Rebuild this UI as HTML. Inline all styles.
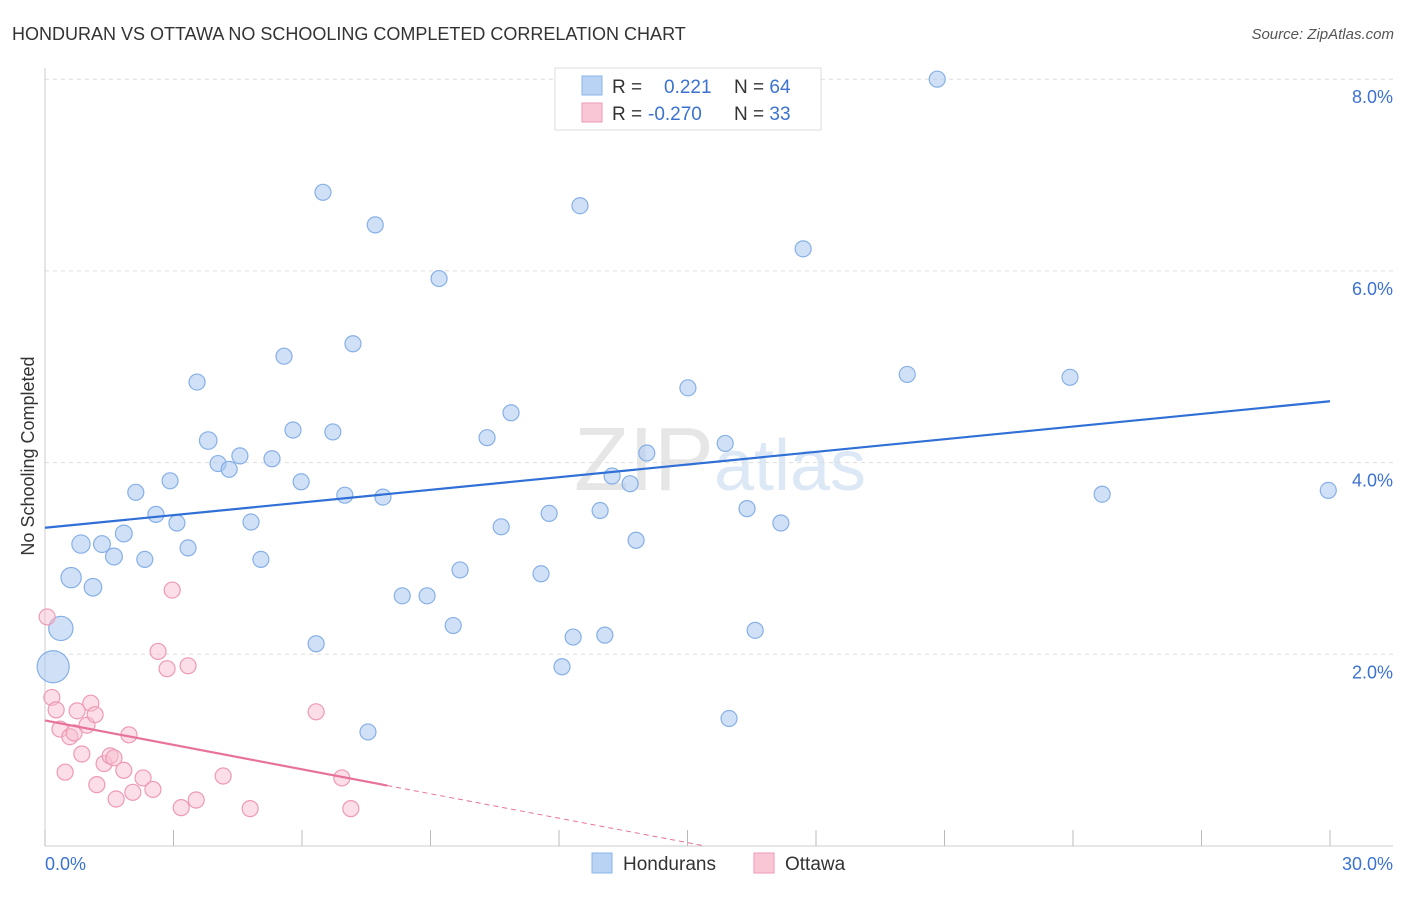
<!DOCTYPE html>
<html><head><meta charset="utf-8"><style>
body{margin:0;background:#fff;font-family:"Liberation Sans",sans-serif;}
svg text{font-family:"Liberation Sans",sans-serif;}
</style></head><body>
<svg id="chart" width="1406" height="892">
<text x="12" y="40" font-size="18" fill="#333">HONDURAN VS OTTAWA NO SCHOOLING COMPLETED CORRELATION CHART</text>
<text x="1394" y="39" font-size="15" fill="#555" font-style="italic" text-anchor="end">Source: ZipAtlas.com</text>
<text x="720" y="490" font-size="90" fill="#e6e6e6" text-anchor="middle" font-family="Liberation Serif">ZIP<tspan fill="#dde8f6" font-family="Liberation Sans" font-size="72">atlas</tspan></text>
<text transform="translate(34,456) rotate(-90)" font-size="18" fill="#333" text-anchor="middle">No Schooling Completed</text>
<g id="grid"></g><g id="axes"></g><g id="marks"></g>
<g>
<rect x="555" y="68" width="266" height="62" fill="#fff" stroke="#ddd"/>
<rect x="582" y="76" width="20" height="19" fill="#b8d3f3" stroke="#8ab4e8"/>
<rect x="582" y="103" width="20" height="19" fill="#f9c6d5" stroke="#ee9ab5"/>
<text x="612" y="93" font-size="19" fill="#333">R = <tspan x="664" fill="#3b72d1">0.221</tspan><tspan x="734" fill="#333">N = </tspan><tspan fill="#3b72d1">64</tspan></text>
<text x="612" y="120" font-size="19" fill="#333">R = <tspan x="648" fill="#3b72d1">-0.270</tspan><tspan x="734" fill="#333">N = </tspan><tspan fill="#3b72d1"> 33</tspan></text>
</g>
<g>
<rect x="592" y="853" width="20" height="20" fill="#b8d3f3" stroke="#8ab4e8"/>
<text x="623" y="870" font-size="19" fill="#333">Hondurans</text>
<rect x="754" y="853" width="20" height="20" fill="#f9c6d5" stroke="#ee9ab5"/>
<text x="785" y="870" font-size="19" fill="#333">Ottawa</text>
</g>
</svg>
<script>
const blueX=[0.19,0.37,0.61,0.84,1.12,1.33,1.61,1.84,2.12,2.33,2.59,2.92,3.08,3.34,3.55,3.81,4.04,4.30,4.55,4.81,5.04,5.30,5.58,5.79,5.98,6.33,6.49,6.72,7.00,7.19,7.54,7.71,7.89,8.34,8.92,9.20,9.53,9.69,10.32,10.65,10.88,11.58,11.77,12.07,12.33,12.49,12.96,13.07,13.24,13.66,13.80,14.05,15.01,15.88,15.97,16.39,16.58,17.18,17.70,20.13,20.83,23.93,24.68,29.96];
const blueY=[1.87,2.27,2.80,3.15,2.70,3.15,3.02,3.26,3.69,2.99,3.46,3.81,3.37,3.11,4.84,4.23,3.99,3.93,4.07,3.38,2.99,4.04,5.11,4.34,3.80,2.11,6.82,4.32,3.66,5.24,1.19,6.48,3.64,2.61,2.61,5.92,2.30,2.88,4.26,3.33,4.52,2.84,3.47,1.87,2.18,6.68,3.50,2.20,3.86,3.78,3.19,4.10,4.78,4.20,1.33,3.52,2.25,3.37,6.23,4.92,8.00,4.89,3.67,3.71];
const blueW=[4,2.3,1.6,1.3,1.2,1.1,1.1,1.1,1,1,1,1,1,1,1,1.2,1,1,1,1,1,1,1,1,1,1,1,1,1,1,1,1,1,1,1,1,1,1,1,1,1,1,1,1,1,1,1,1,1,1,1,1,1,1,1,1,1,1,1,1,1,1,1,1];
const pinkX=[0.05,0.16,0.26,0.35,0.47,0.58,0.68,0.75,0.86,0.98,1.07,1.17,1.21,1.38,1.52,1.61,1.66,1.84,1.96,2.05,2.29,2.52,2.64,2.85,2.97,3.18,3.34,3.53,4.16,4.79,6.33,6.93,7.14];
const pinkY=[2.39,1.55,1.42,1.22,0.77,1.14,1.18,1.41,0.96,1.26,1.49,1.37,0.64,0.86,0.94,0.92,0.49,0.79,1.16,0.56,0.71,0.59,2.03,1.85,2.67,0.40,1.88,0.48,0.73,0.39,1.40,0.71,0.39];
const blueLine=[3.32,0.044]; // intercept, slope
const pinkLine=[1.31,-0.085];
const pinkSolidEnd=7.99;
const xTicks=[0,3,6,9,12,15,18,21,24,27,30];
const yTicks=[2,4,6,8];
const yTickLabels=["2.0%","4.0%","6.0%","8.0%"];
const xLabels=["0.0%","30.0%"];

const X0=45,X1=1330,Y0=846,PY=95.85;
const sx=v=>X0+(v/30)*(X1-X0);
const sy=v=>Y0-v*PY;
const NS="http://www.w3.org/2000/svg";
function mk(tag,attrs,parent){const e=document.createElementNS(NS,tag);for(const k in attrs)e.setAttribute(k,attrs[k]);parent.appendChild(e);return e;}
const grid=document.getElementById('grid'),axes=document.getElementById('axes'),marks=document.getElementById('marks');
yTicks.forEach((t,i)=>{
  const l=mk('line',{x1:X0,x2:1393,y1:sy(t),y2:sy(t),stroke:'#ddd','stroke-dasharray':'4,4'},grid);
  
  
  const tx=mk('text',{x:1393,y:sy(t)+24,'font-size':18,fill:'#3b72d1','text-anchor':'end'},axes);
  tx.textContent=yTickLabels[i];
  
  
});
const ax=mk('line',{x1:X0,x2:1393,y1:Y0,y2:Y0,stroke:'#ccc'},axes);


const ay=mk('line',{x1:X0,x2:X0,y1:68,y2:Y0,stroke:'#ccc'},axes);


xTicks.forEach(t=>{
  const l=mk('line',{x1:sx(t),x2:sx(t),y1:Y0-16,y2:Y0,stroke:'#bbb'},axes);
  
  
});
const xl0=mk('text',{x:45,y:870,'font-size':18,fill:'#3b72d1'},axes);xl0.textContent=xLabels[0];


const xl1=mk('text',{x:1393,y:870,'font-size':18,fill:'#3b72d1','text-anchor':'end'},axes);xl1.textContent=xLabels[1];


blueX.forEach((v,i)=>{
  const c=mk('circle',{cx:sx(v),cy:sy(blueY[i]),r:8*Math.sqrt(blueW[i]),fill:'rgba(170,200,240,0.55)',stroke:'#86b0e6','stroke-width':1.2},marks);
  
  
});
pinkX.forEach((v,i)=>{
  const c=mk('circle',{cx:sx(v),cy:sy(pinkY[i]),r:8,fill:'rgba(248,190,208,0.5)',stroke:'#ee9ab5','stroke-width':1.2},marks);
  
  
});
const bl=mk('line',{x1:sx(0),y1:sy(blueLine[0]),x2:sx(30),y2:sy(blueLine[0]+30*blueLine[1]),stroke:'#2f6fd6','stroke-width':2.2},marks);


const ye=pinkLine[0]+pinkSolidEnd*pinkLine[1];
const pl=mk('line',{x1:sx(0),y1:sy(pinkLine[0]),x2:sx(pinkSolidEnd),y2:sy(ye),stroke:'#e8739a','stroke-width':2.2},marks);


const xz=-pinkLine[0]/pinkLine[1];
const pd=mk('line',{x1:sx(pinkSolidEnd),y1:sy(ye),x2:sx(xz),y2:sy(0),stroke:'#e8739a','stroke-width':1,'stroke-dasharray':'5,4'},marks);


</script>
</body></html>
